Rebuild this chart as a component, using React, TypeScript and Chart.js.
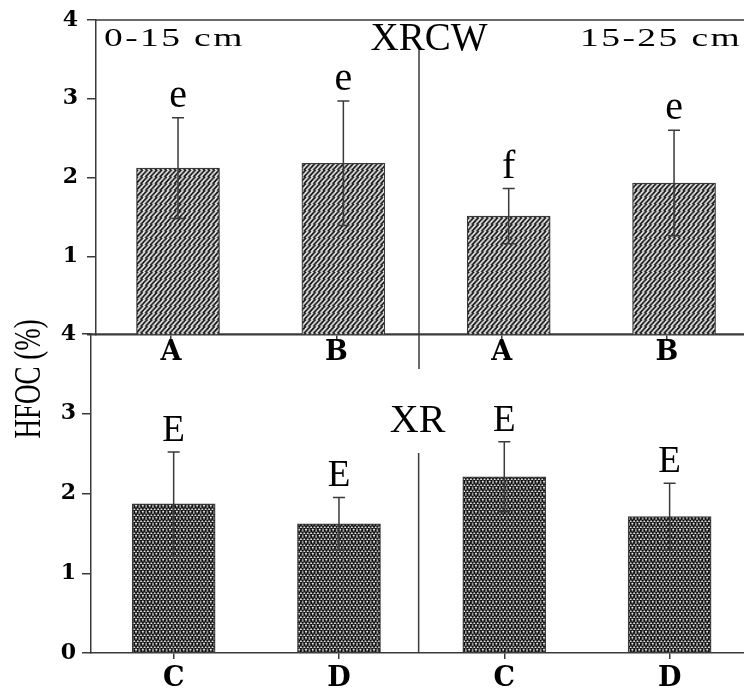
import React, { useEffect, useRef } from "react";
import { Chart, registerables } from "chart.js";

Chart.register(...registerables);

// ---------------- data ----------------
const topCategories = ["A", "B", "A", "B"];
const bottomCategories = ["C", "D", "C", "D"];
const topMeans = [2.12, 2.18, 1.51, 1.93];
const topErrors = [0.64, 0.79, 0.35, 0.67];
const topLetters = ["e", "e", "f", "e"];
const bottomMeans = [1.87, 1.62, 2.21, 1.71];
const bottomErrors = [0.65, 0.33, 0.44, 0.42];
const bottomLetters = ["E", "E", "E", "E"];
const yTickValues = [0, 1, 2, 3, 4];
const depthLabels = ["0-15 cm", "15-25 cm"];
const panelTitles = ["XRCW", "XR"];
const yAxisTitle = "HFOC (%)";

// ---------------- styles ----------------
const LINE = "#3a3a3a";
const SERIF = '"Liberation Serif", "Times New Roman", serif';
const TICK_FONT = { family: '"DejaVu Serif", serif', size: 22, weight: "bold" as const, lineHeight: 1 };
const CAT_FONT = { family: '"DejaVu Serif", serif', size: 27, weight: "bold" as const, lineHeight: 1 };

function makePattern(ctx: CanvasRenderingContext2D, cross: boolean) {
  const t = document.createElement("canvas");
  t.width = 8;
  t.height = 8;
  const c = t.getContext("2d")!;
  c.fillStyle = "#ffffff";
  c.fillRect(0, 0, 8, 8);
  c.strokeStyle = "#0c0c0c";
  c.lineWidth = cross ? 1.85 : 1.8;
  c.beginPath();
  for (let k = -8; k <= 16; k += 4) {
    c.moveTo(k + 8, -8);
    c.lineTo(k - 8, 8 + 8);
    if (cross) {
      c.moveTo(k - 8, -8);
      c.lineTo(k + 8, 8 + 8);
    }
  }
  c.stroke();
  const p = ctx.createPattern(t, "repeat")!;
  if (cross) p.setTransform(new DOMMatrix([0.85, 0, 0, 0.75, 0, 0]));
  else p.setTransform(new DOMMatrix([1.2, 0, 0, 0.85, 0, 0]));
  return p;
}

function stretchedText(
  ctx: CanvasRenderingContext2D,
  text: string,
  x: number,
  y: number,
  sx: number,
  align: CanvasTextAlign,
  font: string,
  spacing: number
) {
  ctx.save();
  ctx.translate(x, y);
  ctx.scale(sx, 1);
  ctx.font = font;
  (ctx as any).letterSpacing = spacing + "px";
  ctx.textAlign = align;
  ctx.textBaseline = "alphabetic";
  ctx.fillStyle = "#000";
  ctx.fillText(text, 0, 0);
  (ctx as any).letterSpacing = "0px";
  ctx.restore();
}

function drawErrorBars(chart: any, means: number[], errors: number[], letters: string[], letterSize: number) {
  const ctx: CanvasRenderingContext2D = chart.ctx;
  const xs = chart.scales.x;
  const ys = chart.scales.y;
  means.forEach((m, i) => {
    const px = xs.getPixelForValue(i + 1);
    const yHi = ys.getPixelForValue(m + errors[i]);
    const yLo = ys.getPixelForValue(m - errors[i]);
    ctx.strokeStyle = LINE;
    ctx.lineWidth = 1.5;
    ctx.beginPath();
    ctx.moveTo(px, yLo);
    ctx.lineTo(px, yHi);
    ctx.moveTo(px - 6, yHi);
    ctx.lineTo(px + 6, yHi);
    ctx.moveTo(px - 6, yLo);
    ctx.lineTo(px + 6, yLo);
    ctx.stroke();
    ctx.font = `${letterSize}px ${SERIF}`;
    ctx.textAlign = "center";
    ctx.textBaseline = "alphabetic";
    ctx.fillStyle = "#000";
    ctx.fillText(letters[i], px, yHi - 11);
  });
}

const topDecor = {
  id: "topDecor",
  afterDatasetsDraw(chart: any) {
    const ctx: CanvasRenderingContext2D = chart.ctx;
    const { left, right, top, bottom } = chart.chartArea;
    ctx.save();
    ctx.strokeStyle = LINE;
    ctx.lineWidth = 1.5;
    ctx.beginPath();
    ctx.moveTo(left, top);
    ctx.lineTo(right, top);
    const dx = chart.scales.xt.getPixelForValue(2.5);
    ctx.moveTo(dx, top + 30);
    ctx.lineTo(dx, bottom + 34);
    ctx.stroke();
    drawErrorBars(chart, topMeans, topErrors, topLetters, 40);
    stretchedText(ctx, depthLabels[0], left + 8, top + 26, 1.5, "left", `25px ${SERIF}`, 1.6);
    stretchedText(ctx, depthLabels[1], right - 2, top + 26, 1.5, "right", `25px ${SERIF}`, 1.6);
    ctx.font = `39px ${SERIF}`;
    ctx.textAlign = "center";
    ctx.textBaseline = "alphabetic";
    ctx.fillStyle = "#000";
    ctx.fillText(panelTitles[0], dx + 10, top + 30);
    ctx.restore();
  },
};

const bottomDecor = {
  id: "bottomDecor",
  afterDatasetsDraw(chart: any) {
    const ctx: CanvasRenderingContext2D = chart.ctx;
    const { left, right, top, bottom } = chart.chartArea;
    ctx.save();
    ctx.strokeStyle = LINE;
    ctx.lineWidth = 1.5;
    ctx.beginPath();
    ctx.moveTo(left, top);
    ctx.lineTo(right, top);
    const dx = chart.scales.x.getPixelForValue(2.5) - 3;
    ctx.moveTo(dx, top + 119);
    ctx.lineTo(dx, bottom);
    ctx.stroke();
    drawErrorBars(chart, bottomMeans, bottomErrors, bottomLetters, 37);
    ctx.font = `40px ${SERIF}`;
    ctx.textAlign = "center";
    ctx.textBaseline = "alphabetic";
    ctx.fillStyle = "#000";
    ctx.fillText(panelTitles[1], dx - 1, top + 98);
    // y axis title
    ctx.save();
    ctx.translate(30, top + 45);
    ctx.rotate(-Math.PI / 2);
    ctx.scale(1, 1.4);
    ctx.font = `27px ${SERIF}`;
    ctx.textAlign = "center";
    ctx.textBaseline = "middle";
    ctx.fillText(yAxisTitle, 0, 0);
    ctx.restore();
    ctx.restore();
  },
};

function yScale(width: number, padding: number, hideZero: boolean) {
  return {
    type: "linear" as const,
    min: 0,
    max: 4,
    afterBuildTicks: (s: any) => {
      s.ticks = yTickValues.map((v) => ({ value: v }));
    },
    afterFit: (s: any) => {
      s.width = width;
    },
    grid: { drawOnChartArea: false, drawTicks: true, tickLength: 9, color: LINE, lineWidth: 1.5 },
    border: { display: true, color: LINE, width: 1.5 },
    ticks: {
      font: TICK_FONT,
      color: "#000",
      padding,
      callback: (v: any) => (hideZero && v === 0 ? "" : String(v)),
    },
  };
}

function catScale(min: number, max: number, labels: string[], padding: number, display = true) {
  return {
    type: "linear" as const,
    position: "bottom" as const,
    display,
    offset: false,
    min,
    max,
    afterBuildTicks: (s: any) => {
      s.ticks = labels.map((_, i) => ({ value: i + 1 }));
    },
    afterFit: (s: any) => {
      s.height = display ? 37 : 0;
    },
    grid: { offset: false, drawOnChartArea: false, drawTicks: true, tickLength: 6, color: LINE, lineWidth: 1.5 },
    border: { display: true, color: LINE, width: 1.5 },
    ticks: {
      font: CAT_FONT,
      color: "#000",
      padding,
      maxRotation: 0,
      autoSkip: false,
      callback: (v: any) => labels[Math.round(v) - 1] ?? "",
    },
  };
}

export default function App() {
  const topRef = useRef<HTMLCanvasElement>(null);
  const botRef = useRef<HTMLCanvasElement>(null);

  useEffect(() => {
    const tc = topRef.current!;
    const bc = botRef.current!;
    const hatch = makePattern(tc.getContext("2d")!, false);
    const cross = makePattern(bc.getContext("2d")!, true);

    const topChart = new Chart(tc, {
      type: "bar",
      data: {
        datasets: [
          {
            data: topMeans.map((m, i) => ({ x: i + 1, y: m })) as any,
            backgroundColor: hatch as any,
            borderColor: LINE,
            borderWidth: 1.2,
            barThickness: 83,
            xAxisID: "x",
            yAxisID: "y",
          },
        ],
      },
      options: {
        animation: false,
        responsive: false,
        events: [],
        layout: { padding: { top: 18, left: 0, right: 0, bottom: 0 } },
        plugins: { legend: { display: false }, tooltip: { enabled: false } },
        scales: {
          x: catScale(0.504, 4.423, topCategories, 0, false) as any,
          xt: catScale(0.546, 4.466, topCategories, -2) as any,
          y: yScale(96, 9, true) as any,
        },
      },
      plugins: [topDecor],
    });

    const botChart = new Chart(bc, {
      type: "bar",
      data: {
        datasets: [
          {
            data: bottomMeans.map((m, i) => ({ x: i + 1, y: m })) as any,
            backgroundColor: cross as any,
            borderColor: LINE,
            borderWidth: 1.2,
            barThickness: 83,
            xAxisID: "x",
            yAxisID: "y",
          },
        ],
      },
      options: {
        animation: false,
        responsive: false,
        events: [],
        layout: { padding: { top: 20, left: 0, right: 0, bottom: 0 } },
        plugins: { legend: { display: false }, tooltip: { enabled: false } },
        scales: {
          x: catScale(0.5, 4.45, bottomCategories, 6) as any,
          y: yScale(91, 6, false) as any,
        },
      },
      plugins: [bottomDecor],
    });

    return () => {
      topChart.destroy();
      botChart.destroy();
    };
  }, []);

  return (
    <div
      style={{
        position: "absolute",
        left: 0,
        top: 0,
        width: 744,
        height: 690,
        overflow: "hidden",
        background: "#fff",
      }}
    >
      <canvas
        ref={botRef}
        width={744}
        height={376}
        style={{ position: "absolute", left: 0, top: 314, width: 744, height: 376 }}
      />
      <canvas
        ref={topRef}
        width={744}
        height={372}
        style={{ position: "absolute", left: 0, top: 0, width: 744, height: 372 }}
      />
    </div>
  );
}
